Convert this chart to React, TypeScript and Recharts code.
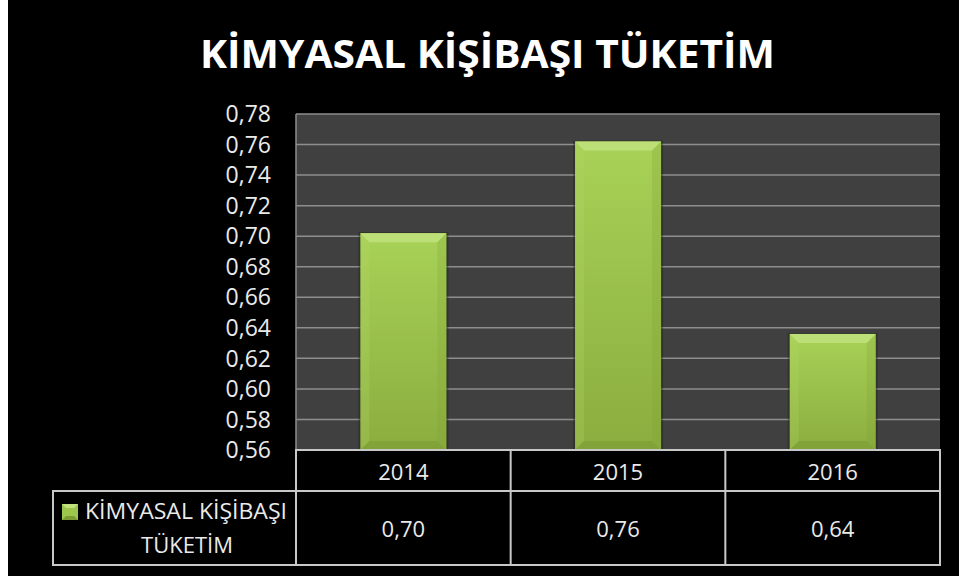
import React from "react";
import { BarChart, Bar, XAxis, YAxis, CartesianGrid } from "recharts";

const title = "KİMYASAL KİŞİBAŞI TÜKETİM";
const seriesLines = ["KİMYASAL KİŞİBAŞI", "TÜKETİM"];
const years = ["2014", "2015", "2016"];
const values = [0.702, 0.762, 0.636];
const valueLabels = ["0,70", "0,76", "0,64"];
const yTicks = [0.56, 0.58, 0.6, 0.62, 0.64, 0.66, 0.68, 0.7, 0.72, 0.74, 0.76, 0.78];

const data = years.map((year, i) => ({ year, value: values[i] }));

const W = 951;
const H = 576;
// plot area in container coords
const PL = 288;
const PR = 932;
const PT = 114;
const PB = 450;
const FONT = "'Open Sans', 'DejaVu Sans', sans-serif";
const LINE = "#c8c8c8";

const fmt = (v: number) => v.toFixed(2).replace(".", ",");

function BevelBar(props: any) {
  const { x, y, width, height } = props;
  if (!height || height <= 0) return null;
  const b = Math.min(9, width / 4, height / 4);
  return (
    <g>
      <rect x={x - 2} y={y - 1} width={width + 4} height={height + 1} fill="#1c2410" opacity={0.4} />
      <rect x={x} y={y} width={width} height={height} fill="url(#barGrad)" />
      <polygon
        points={`${x},${y} ${x + width},${y} ${x + width - b},${y + b} ${x + b},${y + b}`}
        fill="#bddf78"
      />
      <polygon
        points={`${x},${y} ${x + b},${y + b} ${x + b},${y + height - b} ${x},${y + height}`}
        fill="#b2d867"
        opacity={0.25}
      />
      <polygon
        points={`${x + width},${y} ${x + width - b},${y + b} ${x + width - b},${y + height - b} ${x + width},${y + height}`}
        fill="#7e9f34"
        opacity={0.25}
      />
      <polygon
        points={`${x},${y + height} ${x + b},${y + height - b} ${x + width - b},${y + height - b} ${x + width},${y + height}`}
        fill="#7c9b33"
        opacity={0.6}
      />
    </g>
  );
}

export default function App() {
  const colW = (PR - PL) / years.length;
  return (
    <div
      style={{
        position: "absolute",
        left: 8,
        top: 0,
        width: W,
        height: H,
        background: "#000",
        overflow: "hidden",
        fontFamily: FONT,
      }}
    >
      <svg width={W} height={100} style={{ position: "absolute", left: 0, top: 0 }}>
        <text
          x={479.5}
          y={68}
          textAnchor="middle"
          fill="#ffffff"
          fontFamily={FONT}
          fontWeight={700}
          fontSize={39}
          textLength={575}
          lengthAdjust="spacingAndGlyphs"
        >
          {title}
        </text>
      </svg>

      <div style={{ position: "absolute", left: 0, top: 0 }}>
        <BarChart
          width={W}
          height={H}
          data={data}
          margin={{ top: PT, right: W - PR, bottom: H - PB - 42, left: 0 }}
          barCategoryGap="30%"
        >
          <defs>
            <linearGradient id="barGrad" x1="0" y1="0" x2="0" y2="1">
              <stop offset="0%" stopColor="#a8d257" />
              <stop offset="100%" stopColor="#8bad3f" />
            </linearGradient>
          </defs>
          <CartesianGrid
            vertical={false}
            stroke="#8e8e8e"
            strokeWidth={1.5}
            fill="#404040"
            fillOpacity={1}
          />
          <XAxis
            dataKey="year"
            height={42}
            axisLine={false}
            tickLine={false}
            tickSize={0}
            tickMargin={14}
            tick={{ fill: "#eaeaea", fontSize: 22, fontFamily: FONT }}
          />
          <YAxis
            width={PL}
            domain={[0.56, 0.78]}
            ticks={yTicks}
            interval={0}
            allowDataOverflow
            axisLine={false}
            tickLine={false}
            tickSize={0}
            tickMargin={25}
            tickFormatter={fmt}
            tick={{ fill: "#eaeaea", fontSize: 23, fontFamily: FONT }}
          />
          <Bar dataKey="value" name={title} shape={<BevelBar />} isAnimationActive={false} />
        </BarChart>
      </div>

      {/* data table with legend key */}
      <svg width={W} height={H} style={{ position: "absolute", left: 0, top: 0, pointerEvents: "none" }}>
        <line x1={PL} y1={PT} x2={PL} y2={PB} stroke="#8e8e8e" strokeWidth={1.5} />
        <rect x={PL} y={PB} width={PR - PL} height={41} fill="none" stroke={LINE} strokeWidth={2} />
        <rect x={45} y={491} width={PR - 45} height={74} fill="none" stroke={LINE} strokeWidth={2} />
        {years.map((_, i) => (
          <line
            key={i}
            x1={PL + colW * i}
            y1={PB}
            x2={PL + colW * i}
            y2={565}
            stroke={LINE}
            strokeWidth={2}
          />
        ))}
        {valueLabels.map((v, i) => (
          <text
            key={v}
            x={PL + colW * (i + 0.5)}
            y={537}
            textAnchor="middle"
            fill="#eaeaea"
            fontFamily={FONT}
            fontSize={22}
          >
            {v}
          </text>
        ))}
        <g transform="translate(54,504)">
          <rect x={0} y={0} width={16} height={16} fill="#9cc64c" />
          <polygon points="0,0 16,0 12,4 4,4" fill="#c2e27e" />
          <polygon points="0,16 4,12 12,12 16,16" fill="#7c9b33" />
        </g>
        <text
          x={178}
          y={519}
          textAnchor="middle"
          fill="#eaeaea"
          fontFamily={FONT}
          fontSize={22}
          textLength={202}
          lengthAdjust="spacingAndGlyphs"
        >
          {seriesLines[0]}
        </text>
        <text x={179} y={553} textAnchor="middle" fill="#eaeaea" fontFamily={FONT} fontSize={22}>
          {seriesLines[1]}
        </text>
      </svg>
    </div>
  );
}
